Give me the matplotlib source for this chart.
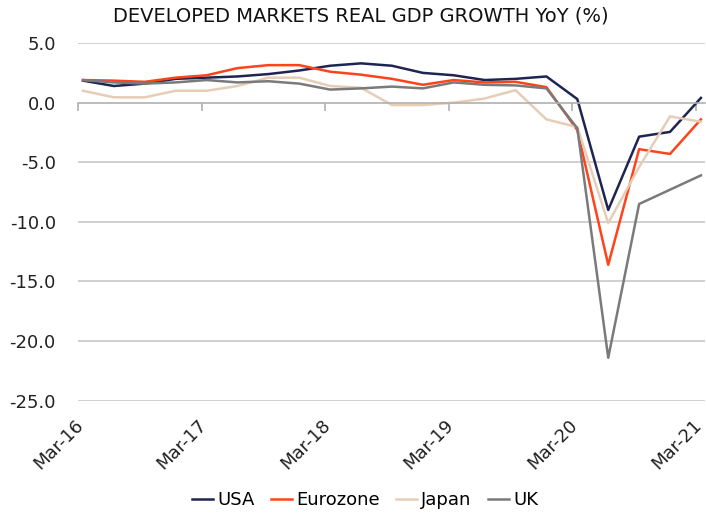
import matplotlib.pyplot as plt
import matplotlib.transforms as mtransforms
import numpy as np

plt.rcParams['font.family'] = ['DejaVu Sans']
plt.rcParams['axes.unicode_minus'] = False

# quarterly, Mar-16 .. Mar-21
quarters = ['Mar-16', 'Jun-16', 'Sep-16', 'Dec-16', 'Mar-17', 'Jun-17', 'Sep-17', 'Dec-17',
            'Mar-18', 'Jun-18', 'Sep-18', 'Dec-18', 'Mar-19', 'Jun-19', 'Sep-19', 'Dec-19',
            'Mar-20', 'Jun-20', 'Sep-20', 'Dec-20', 'Mar-21']
usa = [1.85, 1.4, 1.6, 2.0, 2.1, 2.2, 2.4, 2.7, 3.1, 3.3, 3.1, 2.5, 2.3, 1.9, 2.0, 2.2,
       0.3, -9.0, -2.85, -2.45, 0.4]
eurozone = [1.9, 1.85, 1.75, 2.1, 2.3, 2.9, 3.15, 3.15, 2.6, 2.35, 2.0, 1.5, 1.9, 1.7, 1.75, 1.3,
            -2.3, -13.6, -3.9, -4.3, -1.4]
japan = [1.0, 0.45, 0.45, 1.0, 1.0, 1.4, 2.1, 2.1, 1.4, 1.25, -0.2, -0.2, 0.0, 0.35, 1.05, -1.4,
         -2.05, -10.1, -5.4, -1.15, -1.6]
uk = [1.9, 1.7, 1.6, 1.7, 1.9, 1.7, 1.8, 1.6, 1.1, 1.2, 1.35, 1.2, 1.7, 1.5, 1.45, 1.2,
      -2.15, -21.4, -8.5, -7.3, -6.1]
tick_labels = ['Mar-16', 'Mar-17', 'Mar-18', 'Mar-19', 'Mar-20', 'Mar-21']

x = np.arange(len(quarters))
tick_pos = np.arange(0, len(quarters), 4) - 0.16

fig = plt.figure(figsize=(7.06, 5.13), dpi=100)
ax = fig.add_axes([0.1105, 0.219, 0.888, 0.697])

for y in [5, -5, -10, -15, -20, -25]:
    ax.axhline(y, color='#c8c8c8', lw=1.2, zorder=0)

ax.plot(x, usa, color='#1f2551', lw=1.8, label='USA')
ax.plot(x, eurozone, color='#ff431a', lw=1.8, label='Eurozone')
ax.plot(x, japan, color='#e6cdb6', lw=1.8, label='Japan')
ax.plot(x, uk, color='#7a7a7a', lw=1.8, label='UK')

ax.set_ylim(-25, 5)
ax.set_xlim(-0.16, 20.13)
ax.set_yticks([5, 0, -5, -10, -15, -20, -25])
ax.set_yticklabels(['%.1f' % v for v in [5, 0, -5, -10, -15, -20, -25]])
ax.tick_params(axis='y', length=0, labelsize=13, pad=16, colors='#222222')

for s in ['top', 'right', 'left']:
    ax.spines[s].set_visible(False)
ax.spines['bottom'].set_position(('data', 0))
ax.spines['bottom'].set_color('#b0b0b0')
ax.spines['bottom'].set_linewidth(1.2)
ax.set_xticks(tick_pos)
ax.tick_params(axis='x', labelbottom=False, length=6, width=1.2, color='#b0b0b0', direction='out')

sec = ax.secondary_xaxis('bottom')
sec.set_xticks(tick_pos)
sec.set_xticklabels(tick_labels, rotation=45, ha='right', rotation_mode='anchor')
sec.tick_params(length=0, labelsize=13, pad=7, colors='#222222')
sec.spines['bottom'].set_visible(False)
shift = mtransforms.ScaledTranslation(-4 / 100, -6 / 100, fig.dpi_scale_trans)
for lbl in sec.get_xticklabels():
    lbl.set_transform(lbl.get_transform() + shift)

fig.text(0.511, 0.968, 'DEVELOPED MARKETS REAL GDP GROWTH YoY (%)', fontsize=14,
         color='#111111', ha='center', va='center')

fig.legend(loc='center', bbox_to_anchor=(0.517, 0.025), ncol=4, frameon=False, fontsize=13,
           handlelength=1.15, handletextpad=0.25, columnspacing=0.9)

fig.savefig('out.png', dpi=100)
